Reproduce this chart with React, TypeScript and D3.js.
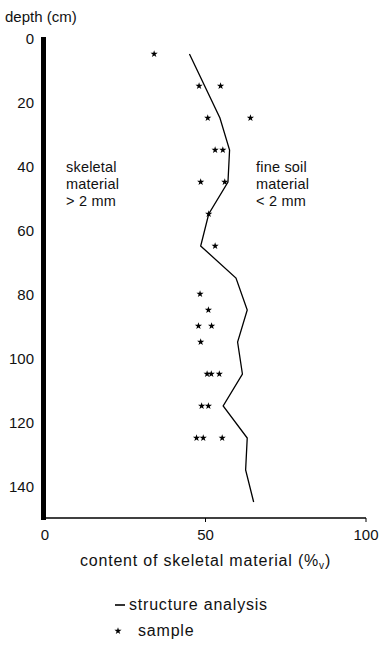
import React from "react";
import * as d3 from "d3";

const structureDepth = [5, 25, 35, 45, 55, 65, 75, 85, 95, 105, 115, 125, 135, 145];
const structureValue = [45, 54.5, 57.5, 57, 51, 48.5, 59.5, 63, 60, 61.5, 55.5, 63, 62.5, 65];

const sampleDepth = [5, 15, 15, 25, 25, 35, 35, 45, 45, 55, 65, 80, 85, 90, 90, 95, 105, 105, 105, 115, 115, 125, 125, 125];
const sampleValue = [34, 48, 54.7, 50.7, 64, 53, 55.4, 48.5, 56, 51, 53, 48.3, 50.9, 47.8, 51.9, 48.5, 50.5, 51.8, 54.3, 48.8, 50.9, 47.2, 49.3, 55.2];

const yTicks = [0, 20, 40, 60, 80, 100, 120, 140];
const xTicks = [0, 50, 100];

const W = 380;
const H = 652;
const FONT = "'Liberation Sans', Arial, sans-serif";

export default function App() {
  const x = d3.scaleLinear().domain([0, 100]).range([45, 366]);
  const y = d3.scaleLinear().domain([0, 150]).range([38, 518]);

  const linePts: [number, number][] = structureDepth.map((d, i) => [structureValue[i], d]);
  const lineGen = d3
    .line<[number, number]>()
    .x((p) => x(p[0]))
    .y((p) => y(p[1]));

  const star = d3.symbol().type(d3.symbolStar).size(16)() as string;

  return (
    <svg
      width={W}
      height={H}
      style={{ position: "absolute", left: 0, top: 0, background: "#fff" }}
      fontFamily={FONT}
    >
      <rect x={0} y={0} width={W} height={H} fill="#fff" />
      {/* y axis title */}
      <text x={5} y={22} fontSize={15} fill="#111">
        depth (cm)
      </text>
      {/* thick y axis bar */}
      <rect x={x(0) - 4} y={y(0) - 1} width={5} height={y(150) - y(0) + 3} fill="#000" />
      {yTicks.map((t) => (
        <text key={t} x={34} y={y(t) + 5.5} fontSize={15} textAnchor="end" fill="#111">
          {t}
        </text>
      ))}
      {/* x axis */}
      <line x1={x(0)} x2={x(100)} y1={y(150)} y2={y(150)} stroke="#000" strokeWidth={1.3} />
      {xTicks.slice(1).map((t) => (
        <line key={t} x1={x(t)} x2={x(t)} y1={y(150)} y2={y(150) + 4} stroke="#000" strokeWidth={1} />
      ))}
      {xTicks.map((t) => (
        <text key={t} x={x(t)} y={540} fontSize={15} textAnchor="middle" fill="#111">
          {t}
        </text>
      ))}
      <text x={x(50)} y={566} fontSize={16} letterSpacing={0.8} textAnchor="middle" fill="#111">
        content of skeletal material (%
        <tspan fontSize={10} dy={3}>v</tspan>
        <tspan dy={-3}>)</tspan>
      </text>

      {/* annotations */}
      <text x={66} y={172} fontSize={14.5} letterSpacing={0.2} fill="#111">skeletal</text>
      <text x={66} y={189} fontSize={14.5} letterSpacing={0.2} fill="#111">material</text>
      <text x={66} y={206} fontSize={14.5} letterSpacing={0.2} fill="#111">&gt; 2 mm</text>
      <text x={256} y={172} fontSize={14.5} letterSpacing={0.2} fill="#111">fine soil</text>
      <text x={256} y={189} fontSize={14.5} letterSpacing={0.2} fill="#111">material</text>
      <text x={256} y={206} fontSize={14.5} letterSpacing={0.2} fill="#111">&lt; 2 mm</text>

      {/* structure analysis line */}
      <path d={lineGen(linePts) || ""} fill="none" stroke="#000" strokeWidth={1.3} />
      {/* samples */}
      {sampleDepth.map((d, i) => (
        <path key={i} d={star} transform={`translate(${x(sampleValue[i])},${y(d)})`} fill="#000" />
      ))}

      {/* legend */}
      <line x1={115} x2={125} y1={605} y2={605} stroke="#000" strokeWidth={1.6} />
      <text x={129} y={610} fontSize={16} letterSpacing={0.8} fill="#111">structure analysis</text>
      <path d={star} transform="translate(118,631)" fill="#000" />
      <text x={138} y={636} fontSize={16} letterSpacing={0.8} fill="#111">sample</text>
    </svg>
  );
}
